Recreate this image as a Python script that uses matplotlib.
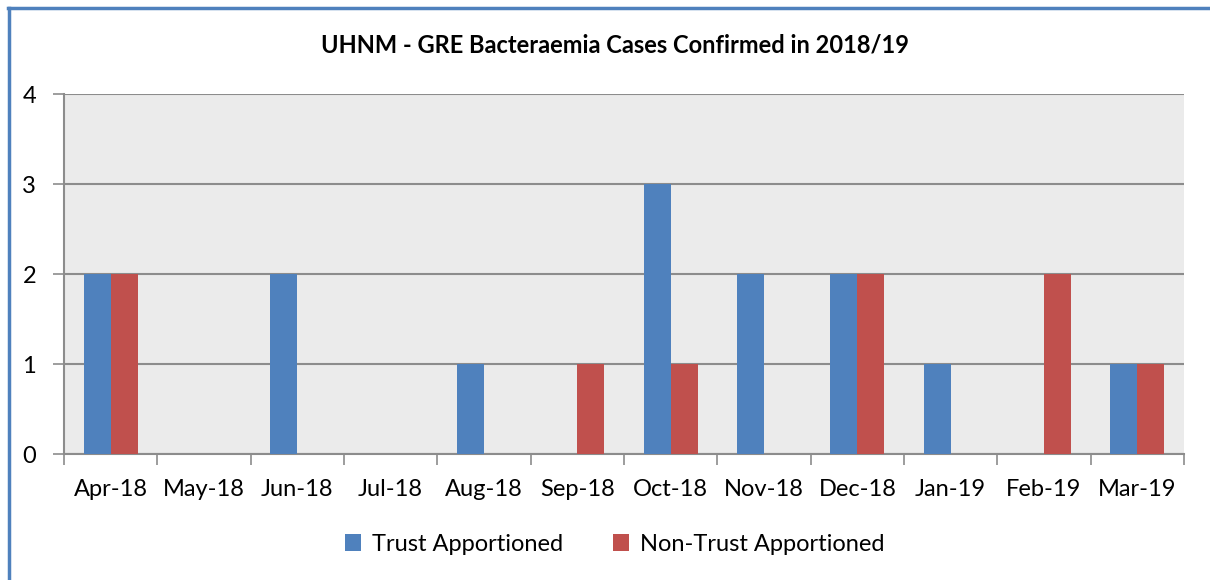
import numpy as np
import matplotlib.pyplot as plt
from matplotlib.lines import Line2D

# data
months = ['Apr-18', 'May-18', 'Jun-18', 'Jul-18', 'Aug-18', 'Sep-18',
          'Oct-18', 'Nov-18', 'Dec-18', 'Jan-19', 'Feb-19', 'Mar-19']
trust = [2, 0, 2, 0, 1, 0, 3, 2, 2, 1, 0, 1]
non_trust = [2, 0, 0, 0, 0, 1, 1, 0, 2, 0, 2, 1]

plt.rcParams['font.family'] = ['Lato', 'DejaVu Sans']

fig = plt.figure(figsize=(12.1, 5.8), dpi=100)
ax = fig.add_axes([0.0529, 0.2172, 0.9256, 0.6207])

x = np.arange(len(months))
w = 0.29
ax.bar(x - w / 2, trust, w, color='#4F81BD', label='Trust Apportioned', zorder=3)
ax.bar(x + w / 2, non_trust, w, color='#C0504D', label='Non-Trust Apportioned', zorder=3)

ax.set_facecolor('#EBEBEB')
ax.set_xlim(-0.5, len(months) - 0.5)
ax.set_ylim(0, 4)
ax.set_yticks([0, 1, 2, 3, 4])
ax.yaxis.grid(True, color='#8C8C8C', linewidth=1.5, zorder=0)

# category labels centred, tick marks on the boundaries
ax.set_xticks(x)
ax.set_xticklabels(months, fontsize=17)
ax.tick_params(axis='x', length=0, pad=18)
ax.set_xticks(np.arange(-0.5, len(months)), minor=True)
ax.tick_params(axis='x', which='minor', length=8, width=1.2, color='#8C8C8C')
ax.tick_params(axis='y', labelsize=17, length=8, width=1.2, color='#8C8C8C', pad=12)

for s in ['top', 'right']:
    ax.spines[s].set_visible(False)
for s in ['left', 'bottom']:
    ax.spines[s].set_color('#8C8C8C')
    ax.spines[s].set_linewidth(1.5)

fig.text(0.508, 0.922, 'UHNM - GRE Bacteraemia Cases Confirmed in 2018/19',
         ha='center', va='center', fontsize=17, fontweight='bold')

fig.legend(loc='center', bbox_to_anchor=(0.508, 0.062), ncol=2, frameon=False,
           fontsize=17, handlelength=0.7, handleheight=0.7, columnspacing=2.1,
           handletextpad=0.45)

# blue frame on the left and top
fig.add_artist(Line2D([0.0075, 0.0075], [0, 0.986], color='#4F81BD', linewidth=2.5,
                      transform=fig.transFigure))
fig.add_artist(Line2D([0.0065, 1.0], [0.986, 0.986], color='#4F81BD', linewidth=2.5,
                      transform=fig.transFigure))

fig.savefig('out.png', dpi=100)
